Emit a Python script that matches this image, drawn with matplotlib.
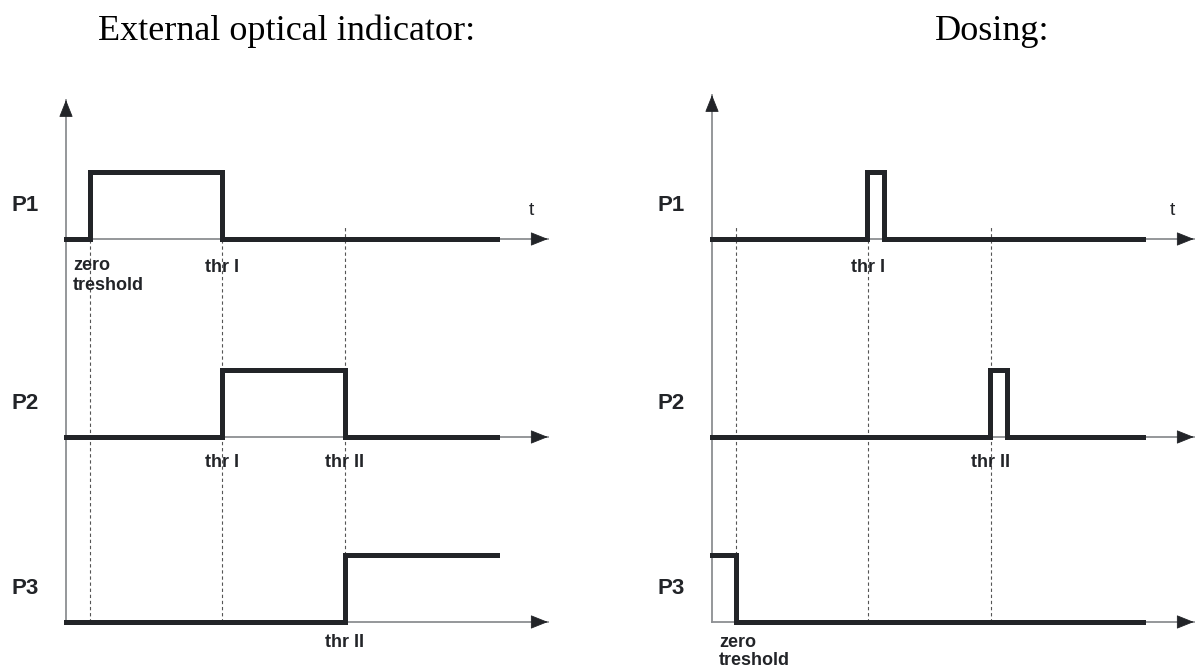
import numpy as np
import matplotlib.pyplot as plt

# switching times (common time units, y-axis at t=0)
t_zero = 1.0
t_thr1 = 6.65
t_thr2 = 11.87
t_end = 18.35
t_axis = 20.5
pulse = 0.68

# External optical indicator: step signals (times, levels)
ext_times = [
    [0, t_zero, t_thr1, t_end],
    [0, t_thr1, t_thr2, t_end],
    [0, t_thr2, t_end],
]
ext_levels = [
    [0, 1, 0, 0],
    [0, 1, 0, 0],
    [0, 1, 1],
]

# Dosing: short pulses at the thresholds
dos_times = [
    [0, t_thr1 - 0.05, t_thr1 + pulse, t_end],
    [0, t_thr2 - 0.05, t_thr2 + pulse, t_end],
    [0, t_zero, t_end],
]
dos_levels = [
    [0, 1, 0, 0],
    [0, 1, 0, 0],
    [1, 0, 0],
]

channels = ['P1', 'P2', 'P3']
offsets = [0.0, -2.955, -5.716]
label_gap = [0.42, 0.38, 0.31]
multi_gap = [0.27, 0.25, 0.18]
multi_space = [1.2, 1.2, 1.05]

ext_labels = [
    [(t_zero, 'zero\ntreshold', 'left'), (t_thr1, 'thr I', 'center')],
    [(t_thr1, 'thr I', 'center'), (t_thr2, 'thr II', 'center')],
    [(t_thr2, 'thr II', 'center')],
]
dos_labels = [
    [(t_thr1, 'thr I', 'center')],
    [(t_thr2, 'thr II', 'center')],
    [(t_zero, 'zero\ntreshold', 'left')],
]

THICK = '#222428'
GREY = '#8c8f92'
DASH = '#555555'
px_x = 23.5   # pixels per time unit
px_y = 67.0   # pixels per level unit


def arrow_head(ax, tip, tail):
    ax.annotate('', xy=tip, xytext=tail,
                arrowprops=dict(arrowstyle='-|>,head_length=0.55,head_width=0.22',
                                color=THICK, lw=0.6, shrinkA=0, shrinkB=0,
                                mutation_scale=20),
                annotation_clip=False)


def draw_panel(ax, times, levels, labels, dashed, dashed_top, y_top, t_label_x):
    bottom = offsets[-1]
    # vertical axis
    ax.plot([0, 0], [bottom, y_top], color=GREY, lw=1.3, clip_on=False)
    arrow_head(ax, (0, y_top), (0, y_top - 0.1))

    # dashed threshold guides
    for tx, top in zip(dashed, dashed_top):
        ax.plot([tx, tx], [bottom, top], color=DASH, lw=0.8,
                linestyle=(0, (3, 2.5)), zorder=1)

    for i, off in enumerate(offsets):
        ax.plot([0, t_axis], [off, off], color=GREY, lw=1.3, clip_on=False, zorder=2)
        arrow_head(ax, (t_axis, off), (t_axis - 0.1, off))
        ax.plot(times[i], np.array(levels[i]) + off, drawstyle='steps-post',
                color=THICK, lw=3.6, solid_joinstyle='miter', zorder=3)
        ax.text(-1.75, off + 0.5, channels[i], fontsize=16, fontweight='bold',
                color=THICK, ha='center', va='center', family='Liberation Sans')
        for tx, txt, ha in labels[i]:
            if '\n' in txt:
                ax.text(tx - 0.7, off - multi_gap[i], txt, fontsize=13,
                        fontweight='bold', color=THICK, ha='left', va='top',
                        linespacing=multi_space[i], family='Liberation Sans')
            else:
                ax.text(tx, off - label_gap[i], txt, fontsize=13,
                        fontweight='bold', color=THICK, ha=ha, va='center',
                        family='Liberation Sans')
    ax.text(t_label_x, 0.43, 't', fontsize=14, color=THICK, ha='center',
            va='center', family='Liberation Sans')


fig = plt.figure(figsize=(11.95, 6.71), dpi=100)
W, H = 1195, 671
ylim = (-(H - 239) / px_y, 239 / px_y)

ax1 = fig.add_axes([0, 0, 600 / W, 1])
ax1.set_xlim(-66 / px_x, (600 - 66) / px_x)
ax1.set_ylim(*ylim)
ax1.axis('off')

ax2 = fig.add_axes([600 / W, 0, 595 / W, 1])
ax2.set_xlim(-(712 - 600) / px_x, (1195 - 712) / px_x)
ax2.set_ylim(*ylim)
ax2.axis('off')

draw_panel(ax1, ext_times, ext_levels, ext_labels,
           [t_zero, t_thr1, t_thr2], [0, 0, 0.2], 139 / px_y, 19.8)
draw_panel(ax2, dos_times, dos_levels, dos_labels,
           [t_zero, t_thr1, t_thr2], [0.2, 0, 0.2], 144 / px_y, 19.6)

fig.text(98 / W, 1 - 40 / H, 'External optical indicator:', fontsize=26,
         family='Liberation Serif', ha='left', va='baseline')
fig.text(935 / W, 1 - 40 / H, 'Dosing:', fontsize=26,
         family='Liberation Serif', ha='left', va='baseline')

fig.savefig('out.png', dpi=100)
